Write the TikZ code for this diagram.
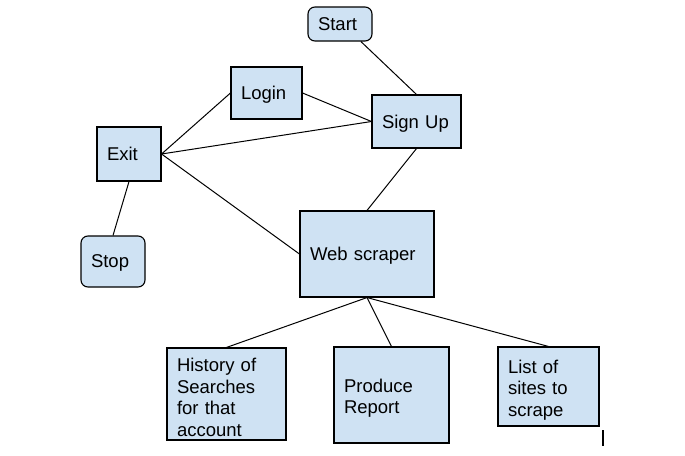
\documentclass[tikz,border=0pt]{standalone}
\usepackage{fontspec}
\setmainfont{Liberation Sans}
\definecolor{boxblue}{HTML}{CFE2F3}

\begin{document}
\begin{tikzpicture}[
        x=1pt, y=-1pt,
        font=\fontsize{18.5}{21.5}\selectfont,
        box/.style={draw, fill=boxblue, line width=1.1pt, align=left,
                    inner xsep=10pt, inner ysep=0pt},
        onebox/.style={box, text depth=0pt},
        roundbox/.style={onebox, rounded corners=7pt},
        link/.style={line width=1pt}
    ]
    \useasboundingbox (0,0) rectangle (685,455);

    % 开始、注册、登录
    \node[roundbox, text width=44pt, minimum height=34pt] (start) at (340,24) {Start};
    \node[onebox, text width=69pt, minimum height=53pt] (signup) at (416.5,121.5) {Sign Up};
    \node[onebox, text width=51pt, minimum height=52pt] (login) at (266.5,93) {Login};

    % 退出与停止
    \node[onebox, text width=44pt, minimum height=54pt] (exit) at (129,154) {Exit};
    \node[roundbox, text width=44pt, minimum height=51pt] (stop) at (113,261.5) {Stop};

    % 爬虫及其功能
    \node[onebox, text width=114pt, minimum height=86pt] (scraper) at (367,254) {Web scraper};
    \node[box, text width=99pt, minimum height=92pt] (history) at (226.5,394) {\rule{0pt}{20pt}History of\\Searches\\for that\\account};
    \node[box, text width=95pt, minimum height=96pt] (report) at (391.5,395) {\rule{0pt}{20pt}Produce\\Report};
    \node[box, text width=81pt, minimum height=79pt] (sites) at (548.5,386.5) {\rule{0pt}{20pt}List of\\sites to\\scrape};

    % 连线
    \draw[link] (start.-40) -- (signup.north);
    \draw[link] (login.east) -- (signup.west);
    \draw[link] (exit.east) -- (signup.west);
    \draw[link] (exit.east) -- (login.west);
    \draw[link] (exit.east) -- (scraper.west);
    \draw[link] (exit.south) -- (stop.north);
    \draw[link] (signup.south) -- (scraper.north);
    \draw[link] (scraper.south) -- (history.north);
    \draw[link] (scraper.south) -- (report.north);
    \draw[link] (scraper.south) -- (sites.north);

    % 光标
    \draw[line width=2pt] (603,430) -- (603,446);
\end{tikzpicture}
\end{document}
